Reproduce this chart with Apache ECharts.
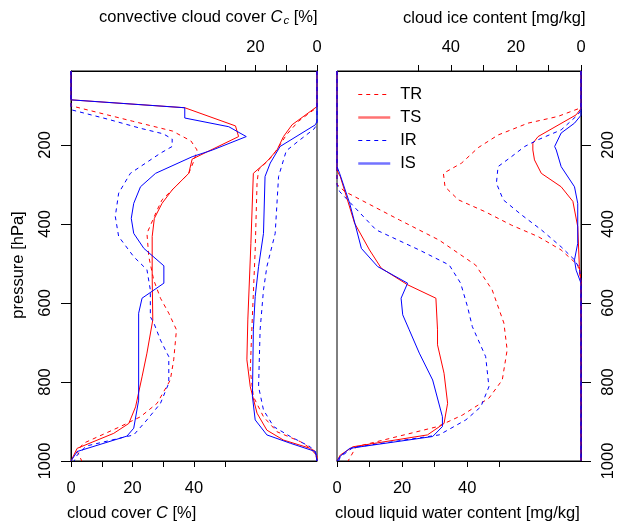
<!DOCTYPE html>
<html>
<head>
<meta charset="utf-8">
<script src="https://cdn.jsdelivr.net/npm/echarts@6/dist/echarts.min.js"></script>
<style>
  html, body { margin: 0; padding: 0; background: #fff; }
  #chart { width: 617px; height: 523px; }
</style>
</head>
<body>
<div id="chart"></div>
<script>
// profiles as [value, pressure hPa]
// cloud cover C [%]
const coverTR = [[0,13],[0,101],[20,140],[33,165],[39,190],[41,213],[40,240],[38.3,272],[33.4,310],[29.6,339],[28,365],[24.7,424],[25.3,483],[26.9,542],[29.1,588],[31.8,626],[34.3,668],[33.4,744],[32.3,795],[28,854],[22.6,888],[16,913],[4.1,955],[2,975],[3.5,1000]];
const coverTS = [[0,13],[0,86],[37,106],[53.5,152],[54.5,179],[39.4,236],[38.3,272],[32.9,314],[29.6,348],[27.1,386],[26.4,432],[26.4,533],[26.6,643],[24.7,727],[23.1,787],[21,863],[18.8,905],[13.9,930],[2,968],[0,1000]];
const coverIR = [[0,13],[0,111],[12,135],[22.6,158],[30,172],[32.9,185],[32.9,204],[29.1,221],[19.3,272],[15.5,322],[14.4,381],[15.5,432],[20.4,483],[24.7,516],[25.8,567],[25.8,635],[26.9,650],[29.1,694],[31.8,736],[31.8,803],[29.1,854],[24.7,896],[20.4,934],[5,962],[2,985],[1,1000]];
const coverIS = [[0,13],[0,86],[37,106],[37,132],[51.3,154],[57,179],[46,213],[39.4,230],[27.5,272],[22.6,306],[20.4,348],[19.6,386],[20.4,424],[23.7,462],[30.2,506],[30.2,550],[23.1,588],[22,626],[22,846],[20.4,917],[18.2,937],[2,976],[0,1000]];

// convective cloud cover Cc [%]
const convTR = [[0,13],[0,105],[6,140],[10,175],[12,200],[14.7,230],[19,263],[19.5,297],[20.1,466],[21.2,668],[21.7,770],[20.7,837],[17.4,888],[13,926],[5.4,951],[0.5,976],[0,1000]];
const convTS = [[0,13],[0,103],[8.1,149],[10.9,179],[13,213],[16.3,242],[20.7,272],[21.5,450],[22.5,643],[22.8,744],[21.7,812],[19.5,879],[16.3,922],[10.9,947],[2.2,968],[0,987],[0,1000]];
const convIR = [[0,13],[0,148],[1,160],[6,190],[10,215],[12.5,280],[13.6,424],[16.3,508],[17.4,567],[18.5,668],[19,812],[17.4,871],[14.1,913],[8.7,938],[2.2,964],[0,985],[0,1000]];
const convIS = [[0,13],[0,140],[0.5,149],[12,204],[15.2,246],[16.9,280],[17.4,424],[19,508],[20.1,584],[20.7,668],[21,837],[20.1,896],[16.3,934],[8.7,955],[0.5,976],[0,1000]];

// cloud liquid water content [mg/kg]
const liqTR = [[0,13],[0,300],[2.4,318],[19.2,390],[31.4,441],[42.6,504],[47.7,567],[51.3,651],[52.3,719],[50.8,795],[46.7,841],[38.5,884],[30.9,913],[5.9,964],[3.4,1000]];
const liqTS = [[0,13],[0,265],[1,280],[5.4,398],[10,466],[13.6,512],[21.7,554],[30.4,588],[30.9,668],[30.9,706],[32.9,778],[34,854],[32.9,905],[27.8,934],[4.9,964],[1,985],[0,1000]];
const liqIR = [[0,13],[0,300],[0.8,318],[12,415],[25.3,466],[34.5,504],[38,550],[40.1,609],[41.6,660],[45.7,736],[46.7,812],[44.2,863],[39.6,896],[31.4,934],[4.9,966],[1,990],[0.5,1000]];
const liqIS = [[0,13],[0,255],[0.8,272],[3.9,348],[7.5,462],[12.5,508],[21.7,550],[19.7,588],[20.2,630],[22.2,668],[25.3,727],[29.4,795],[32.4,888],[32.4,913],[29.4,938],[3.9,968],[1,988],[0,1000]];

// cloud ice content [mg/kg]
const iceTR = [[0,13],[0,106],[7.1,128],[16.3,145],[25.5,175],[31.6,207],[36.7,246],[42.3,272],[41.8,306],[37.7,339],[29.5,369],[21.4,403],[13.2,432],[6.1,466],[1,504],[0,540],[0,1000]];
const iceTS = [[0,13],[0,108],[1.5,124],[13.2,179],[14.8,196],[14.8,213],[14.3,238],[12.2,272],[6.1,306],[2.5,343],[1,407],[0.5,508],[0,550],[0,1000]];
const iceIR = [[0,13],[0,112],[1,124],[6.1,162],[13.2,187],[17.3,204],[21.4,230],[25.5,255],[26,297],[23.9,339],[18.3,377],[12.2,415],[6.1,458],[2,491],[0.5,512],[0,540],[0,1000]];
const iceIS = [[0,13],[0,125],[2,145],[6.1,170],[8.1,204],[7.6,213],[6.1,255],[2,306],[1,348],[1,449],[2,491],[1.5,517],[0,550],[0,1000]];

const runs = ['TR', 'TS', 'IR', 'IS'];
const pressureTicks = [200, 400, 600, 800, 1000];
const coverTicks = [0, 10, 20, 30, 40, 50];
const coverLabels = [0, 20, 40];
const convTicks = [0, 10, 20, 30];
const convLabels = [0, 20];
const liqTicks = [0, 10, 20, 30, 40, 50];
const liqLabels = [0, 20, 40];
const iceTicks = [0, 10, 20, 30, 40, 50];
const iceLabels = [0, 20, 40];

const chart = echarts.init(document.getElementById('chart'));
const FONT = 'Liberation Sans, Arial, Helvetica, sans-serif';
const FS = 16.5;

const runStyle = {
  TR: { color: '#ff0000', type: [4, 4] },
  TS: { color: '#ff0000', type: 'solid' },
  IR: { color: '#0000ff', type: [4, 4] },
  IS: { color: '#0000ff', type: 'solid' }
};

const profiles = [
  { x: 0, y: 0, data: { TR: coverTR, TS: coverTS, IR: coverIR, IS: coverIS } },
  { x: 1, y: 0, data: { TR: convTR, TS: convTS, IR: convIR, IS: convIS } },
  { x: 2, y: 1, data: { TR: liqTR, TS: liqTS, IR: liqIR, IS: liqIS } },
  { x: 3, y: 1, data: { TR: iceTR, TS: iceTS, IR: iceIR, IS: iceIS } }
];

const series = [];
profiles.forEach(p => {
  runs.forEach(r => {
    series.push({
      name: r,
      type: 'line',
      xAxisIndex: p.x,
      yAxisIndex: p.y,
      data: p.data[r],
      symbol: 'none',
      lineStyle: { color: runStyle[r].color, width: 1, type: runStyle[r].type },
      itemStyle: { color: runStyle[r].color },
      z: 3
    });
  });
});

const plain = v => String(v);

function xAxis(grid, pos, max, ticks, labels, inverse) {
  return {
    type: 'value',
    gridIndex: grid,
    position: pos,
    min: 0,
    max: max,
    inverse: inverse,
    axisLine: { show: true, onZero: false, lineStyle: { color: '#000', width: 1 } },
    axisTick: { show: true, length: 6, customValues: ticks, lineStyle: { color: '#000' } },
    axisLabel: { customValues: labels, formatter: plain, color: '#000', fontSize: FS, fontFamily: FONT, margin: pos === 'top' ? 15 : 19 },
    splitLine: { show: false }
  };
}

function yAxis(grid, pos) {
  return {
    type: 'value',
    gridIndex: grid,
    position: pos,
    min: 13,
    max: 1000,
    inverse: true,
    axisLine: { show: true, onZero: false, lineStyle: { color: '#000', width: 1 } },
    axisTick: { show: true, length: 10, customValues: pressureTicks, lineStyle: { color: '#000' } },
    axisLabel: { customValues: pressureTicks, formatter: plain, rotate: 90, color: '#000', fontSize: FS, fontFamily: FONT, margin: pos === 'left' ? 17 : 19 },
    splitLine: { show: false }
  };
}

const titleStyle = {
  fontSize: FS,
  fontFamily: FONT,
  fill: '#000',
  rich: {
    i: { fontSize: FS, fontFamily: FONT, fontStyle: 'italic' },
    s: { fontSize: 11.5, fontFamily: FONT, fontStyle: 'italic', padding: [7, 0, 0, 1] }
  }
};

const option = {
  animation: false,
  backgroundColor: '#fff',
  grid: [
    { left: 71, top: 71, width: 246, height: 390, show: true, borderColor: '#000', borderWidth: 1 },
    { left: 337, top: 71, width: 246, height: 390, show: true, borderColor: '#000', borderWidth: 1 }
  ],
  xAxis: [
    xAxis(0, 'bottom', 80, coverTicks, coverLabels, false),
    xAxis(0, 'top', 80, convTicks, convLabels, true),
    xAxis(1, 'bottom', 75, liqTicks, liqLabels, false),
    xAxis(1, 'top', 75, iceTicks, iceLabels, true)
  ],
  yAxis: [yAxis(0, 'left'), yAxis(1, 'right')],
  legend: {
    data: [
      { name: 'TR', lineStyle: { width: 1 } },
      { name: 'TS', lineStyle: { width: 2.5, opacity: 0.55 } },
      { name: 'IR', lineStyle: { width: 1 } },
      { name: 'IS', lineStyle: { width: 2.5, opacity: 0.55 } }
    ],
    orient: 'vertical',
    left: 352,
    top: 81,
    itemWidth: 32,
    itemHeight: 14,
    itemGap: 6,
    itemStyle: { opacity: 0 },
    textStyle: { fontSize: FS, fontFamily: FONT, color: '#000', padding: [0, 0, 0, 5] }
  },
  graphic: [
    { type: 'text', left: 67, top: 505, style: Object.assign({ text: 'cloud cover {i|C} [%]' }, titleStyle) },
    { type: 'text', left: 335, top: 505, style: Object.assign({ text: 'cloud liquid water content [mg/kg]' }, titleStyle) },
    { type: 'text', left: 99, top: 9, style: Object.assign({ text: 'convective cloud cover {i|C}{s|c} [%]' }, titleStyle) },
    { type: 'text', left: 403, top: 10, style: Object.assign({ text: 'cloud ice content [mg/kg]' }, titleStyle) },
    { type: 'text', x: 18, y: 265, rotation: Math.PI / 2,
      style: Object.assign({ text: 'pressure [hPa]', align: 'center', verticalAlign: 'middle' }, titleStyle) }
  ],
  series: series
};

chart.setOption(option);
</script>
</body>
</html>
